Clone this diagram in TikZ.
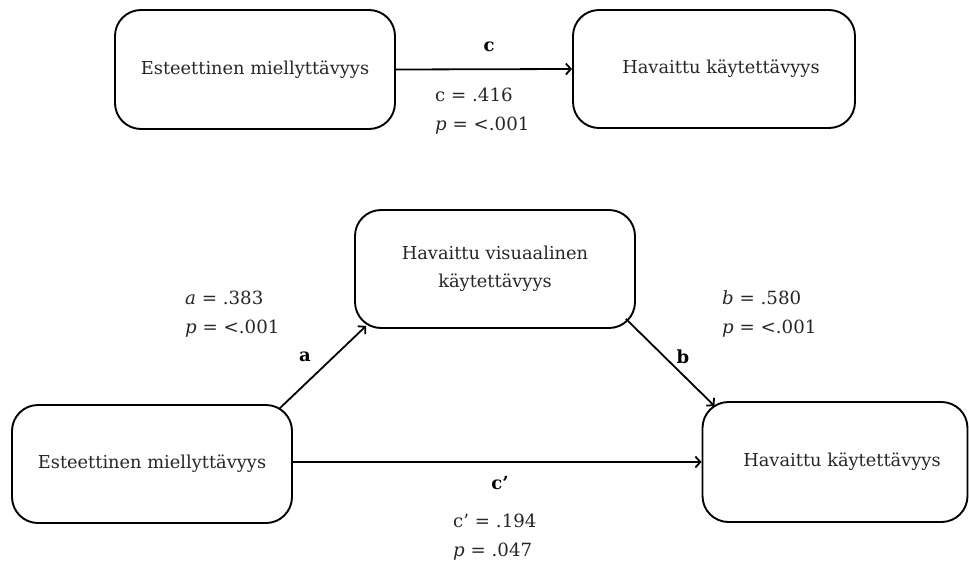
\documentclass[tikz,border=0pt]{standalone}
\usepackage{fontspec}
\setmainfont{DejaVu Serif}
\usetikzlibrary{arrows.meta}
\tikzset{
  box/.style={draw=black, line width=1.9pt, rounded corners=26pt, inner sep=0pt,
    align=center, font=\fontsize{17.8}{28}\selectfont, text=black!85},
  conn/.style={line width=1.8pt, -{Straight Barb[length=5pt,width=11pt,line width=1.8pt]}},
  lbl/.style={font=\fontsize{18.2}{29}\selectfont, align=left, anchor=west, inner sep=0pt, text=black!85},
  pth/.style={font=\bfseries\fontsize{18}{20}\selectfont, inner sep=0pt},
}
\begin{document}
\begin{tikzpicture}[x=1pt,y=-1pt]
\useasboundingbox (0,0) rectangle (969,565);
% boxes
\node[box, minimum width=280pt, minimum height=119pt] (TL) at (255,69.5) {Esteettinen miellyttävyys};
\node[box, minimum width=282pt, minimum height=118pt] (TR) at (714,69) {\hspace*{14pt}Havaittu käytettävyys};
\node[box, minimum width=280pt, minimum height=118pt] (M) at (495,269) {Havaittu visuaalinen\\käytettävyys};
\node[box, minimum width=280pt, minimum height=118pt] (BL) at (152,464) {Esteettinen miellyttävyys};
\node[box, minimum width=265pt, minimum height=120pt] (BR) at (835,462) {\hspace*{14pt}Havaittu käytettävyys};
% connectors
\draw[conn] (TL.east) -- (TR.west);
\draw[conn] ([xshift=-14pt,yshift=-5pt]BL.north east) -- ([xshift=12pt,yshift=3pt]M.south west);
\draw[conn] ([xshift=-10pt,yshift=10pt]M.south east) -- ([xshift=13pt,yshift=-5pt]BR.north west);
\draw[conn] (BR.west -| BL.east) -- (BR.west);
% path labels
\node[pth] (lc) at (489,47) {c};
\node[pth] (la) at (305,357) {a};
\node[pth] (lb) at (683,357) {b};
\node[pth] (lcp) at (500,483) {c’};
% statistics
\node[lbl] (sc) at (435,111) {c = .416\\\textit{p} = <.001};
\node[lbl] (sa) at (185,314) {\textit{a} = .383\\\textit{p} = <.001};
\node[lbl] (sb) at (722,314) {\textit{b} = .580\\\textit{p} = <.001};
\node[lbl] (scp) at (453,537) {c’ = .194\\\textit{p} = .047};
\end{tikzpicture}
\end{document}
